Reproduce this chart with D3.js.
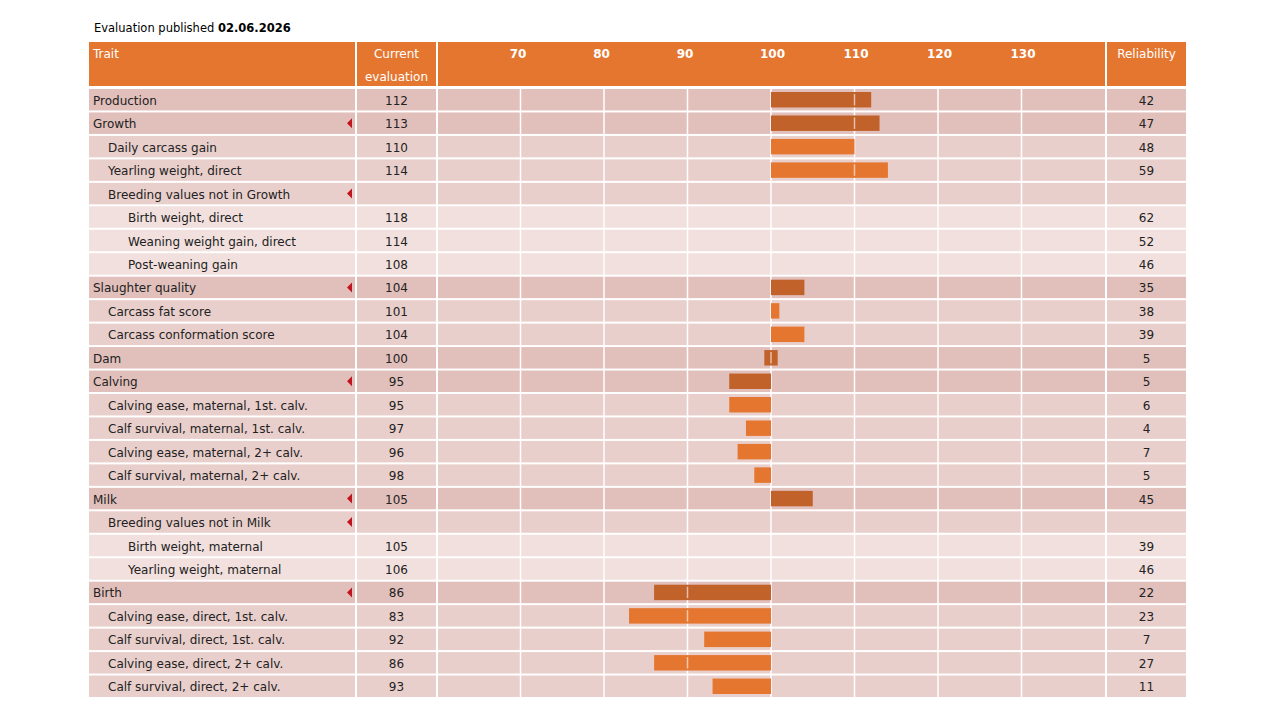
<!DOCTYPE html>
<html><head><meta charset="utf-8">
<script src="https://cdn.jsdelivr.net/npm/d3@7"></script>
<style>
body{margin:0;background:#fff;font-family:"DejaVu Sans",Verdana,sans-serif;}
</style></head>
<body><svg id="c" width="1280" height="720"></svg>
<script>
const publishedDate = "02.06.2026";
const traits = ["Production","Growth","Daily carcass gain","Yearling weight, direct","Breeding values not in Growth","Birth weight, direct","Weaning weight gain, direct","Post-weaning gain","Slaughter quality","Carcass fat score","Carcass conformation score","Dam","Calving","Calving ease, maternal, 1st. calv.","Calf survival, maternal, 1st. calv.","Calving ease, maternal, 2+ calv.","Calf survival, maternal, 2+ calv.","Milk","Breeding values not in Milk","Birth weight, maternal","Yearling weight, maternal","Birth","Calving ease, direct, 1st. calv.","Calf survival, direct, 1st. calv.","Calving ease, direct, 2+ calv.","Calf survival, direct, 2+ calv."];
const levels = [0,0,1,1,1,2,2,2,0,1,1,0,0,1,1,1,1,0,1,2,2,0,1,1,1,1];
const values = [112,113,110,114,null,118,114,108,104,101,104,100,95,95,97,96,98,105,null,105,106,86,83,92,86,93];
const reliability = [42,47,48,59,null,62,52,46,35,38,39,5,5,6,4,7,5,45,null,39,46,22,23,7,27,11];
const expandable = [false,true,false,false,true,false,false,false,true,false,false,false,true,false,false,false,false,true,true,false,false,true,false,false,false,false];
const tickValues = [70,80,90,100,110,120,130];
const baseline = 100;

const rows = traits.map((t,i)=>({trait:t,level:levels[i],value:values[i],rel:reliability[i],exp:expandable[i],i}));

const svg = d3.select("#c");
const bgCol = ["#e1bfbb","#e9cfcc","#f1e0dd"];
const barCol = ["#c0622a","#e5762f"];
const orange = "#e5762f";
const txt = "#222";

const col = {trait:[89,355],ev:[357,436],chart:[438,1105],rel:[1107,1186]};
const x = d3.scaleLinear().domain([60,140]).range([437,1105]);
const y = d3.scaleBand().domain(d3.range(rows.length)).range([88,698]).paddingInner(0);
const rh = y.bandwidth();

// title
const title = svg.append("text").attr("x",94).attr("y",32).attr("font-size",11.5).attr("fill","#000");
title.append("tspan").text("Evaluation published ");
title.append("tspan").attr("font-weight","bold").text(publishedDate);

// header
const hy0 = 42, hy1 = 86;
Object.values(col).forEach(c=>{
  svg.append("rect").attr("x",c[0]).attr("y",hy0).attr("width",c[1]-c[0]).attr("height",hy1-hy0).attr("fill",orange);
});
svg.append("text").attr("x",93).attr("y",58).attr("fill","#fff").attr("font-size",12).text("Trait");
svg.append("text").attr("x",(col.ev[0]+col.ev[1])/2).attr("y",58).attr("text-anchor","middle").attr("fill","#fff").attr("font-size",12).text("Current");
svg.append("text").attr("x",(col.ev[0]+col.ev[1])/2).attr("y",81).attr("text-anchor","middle").attr("fill","#fff").attr("font-size",12).text("evaluation");
svg.append("text").attr("x",(col.rel[0]+col.rel[1])/2).attr("y",58).attr("text-anchor","middle").attr("fill","#fff").attr("font-size",12).text("Reliability");

const axis = d3.axisTop(x).tickValues(tickValues).tickSize(0).tickPadding(0);
const ag = svg.append("g").attr("transform","translate(0,58)").call(axis);
ag.select(".domain").remove();
ag.selectAll("text").attr("fill","#fff").attr("font-size",12).attr("font-weight","bold")
  .attr("font-family","\"DejaVu Sans\",Verdana,sans-serif").attr("dy",0)
  .attr("dx",d=>d<100?-3:1);

// row backgrounds
const rg = svg.append("g");
rows.forEach(r=>{
  const yy = y(r.i)+1, hh = rh-2;
  Object.values(col).forEach(c=>{
    rg.append("rect").attr("x",c[0]).attr("y",yy).attr("width",c[1]-c[0]).attr("height",hh).attr("fill",bgCol[r.level]);
  });
});

// gridlines
svg.append("g").selectAll("line").data(tickValues).join("line")
  .attr("x1",d=>x(d)).attr("x2",d=>x(d)).attr("y1",88).attr("y2",698)
  .attr("stroke","#fff").attr("stroke-width",1.5);

// bars
const barRows = rows.filter(r=>r.level<2 && r.value!=null);
const bInset = 4;
const minHalf = 0.8;
const bars = svg.append("g");
barRows.forEach(r=>{
  let a = Math.min(r.value,baseline), b = Math.max(r.value,baseline);
  if (b-a < 0.5) { a = baseline-minHalf; b = baseline+minHalf; }
  bars.append("rect").attr("x",x(a)).attr("y",y(r.i)+bInset).attr("width",x(b)-x(a)).attr("height",rh-2*bInset)
    .attr("fill",barCol[r.level]);
  tickValues.forEach(t=>{
    if (t>a+0.2 && t<b-0.2) {
      bars.append("line").attr("x1",x(t)).attr("x2",x(t)).attr("y1",y(r.i)+bInset+2).attr("y2",y(r.i)+rh-bInset-2)
        .attr("stroke","#fff").attr("stroke-opacity",0.6).attr("stroke-width",1.5);
    }
  });
});

// texts
const tg = svg.append("g").attr("font-size",12).attr("fill",txt);
const indent = [93,108,128];
rows.forEach(r=>{
  const cy = y(r.i)+rh/2+5;
  tg.append("text").attr("x",indent[r.level]).attr("y",cy).text(r.trait);
  if (r.value!=null) tg.append("text").attr("x",(col.ev[0]+col.ev[1])/2).attr("y",cy).attr("text-anchor","middle").text(r.value);
  if (r.rel!=null) tg.append("text").attr("x",(col.rel[0]+col.rel[1])/2).attr("y",cy).attr("text-anchor","middle").text(r.rel);
  if (r.exp) {
    const mx = 352, my = y(r.i)+rh/2;
    svg.append("path").attr("d",`M${mx},${my-5}L${mx-5},${my}L${mx},${my+5}Z`).attr("fill","#c0141e");
  }
});
</script></body></html>
